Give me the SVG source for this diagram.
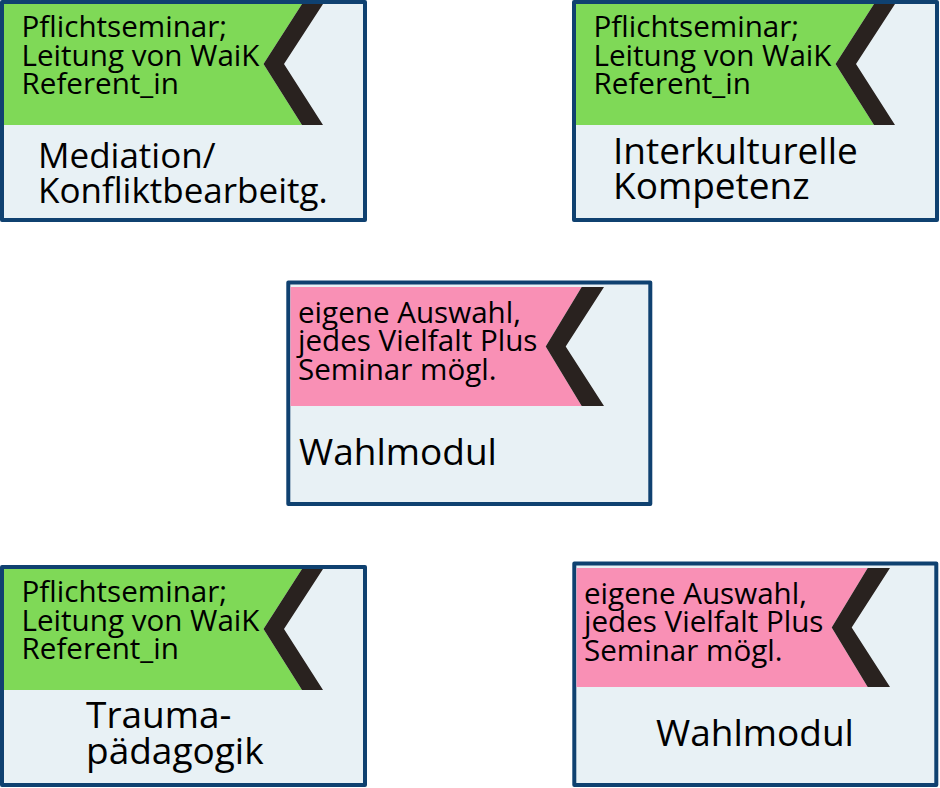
<svg xmlns="http://www.w3.org/2000/svg" width="940" height="788" viewBox="0 0 940 788">
<style>
.frame{fill:#e8f1f5;stroke:#0f4170;stroke-width:4;stroke-linejoin:round}
.green{fill:#7fd957}
.pink{fill:#f990b5}
.chev{fill:#29221f}
.small{font-family:"Open Sans","Noto Sans",sans-serif;font-size:29.6px;fill:#000}
.big{font-family:"Open Sans","Noto Sans",sans-serif;font-size:37px;fill:#000}
.big35{font-family:"Open Sans","Noto Sans",sans-serif;font-size:35px;fill:#000}
</style>
<rect width="940" height="788" fill="#ffffff"/>
<g id="connectors"></g>
<g id="node-mediation">
<rect class="frame" x="2" y="2" width="363" height="218"/>
<polygon class="green" points="4,4 302,4 263.5,64 302,125 4,125"/>
<polygon class="chev" points="302,4 323,4 284,64 323,125 302,125 263.5,64"/>
<text class="small"><tspan x="21.5" y="37">Pflichtseminar;</tspan><tspan x="21.5" y="65.5">Leitung von WaiK</tspan><tspan x="21.5" y="94">Referent_in</tspan></text>
<text class="big35"><tspan x="38" y="168">Mediation/</tspan><tspan x="38" y="203">Konfliktbearbeitg.</tspan></text>
</g>
<g id="node-interkulturelle">
<rect class="frame" x="574" y="2" width="363" height="218"/>
<polygon class="green" points="576,4 874,4 835.5,64 874,125 576,125"/>
<polygon class="chev" points="874,4 895,4 856,64 895,125 874,125 835.5,64"/>
<text class="small"><tspan x="593.5" y="37">Pflichtseminar;</tspan><tspan x="593.5" y="65.5">Leitung von WaiK</tspan><tspan x="593.5" y="94">Referent_in</tspan></text>
<text class="big"><tspan x="613" y="164">Interkulturelle</tspan><tspan x="613" y="199">Kompetenz</tspan></text>
</g>
<g id="node-wahlmodul-1">
<rect class="frame" x="288.3" y="282.5" width="362" height="221.5"/>
<polygon class="pink" points="290.5,287 581.7,287 545.7,346.5 581.7,406 290.5,406"/>
<polygon class="chev" points="581.7,287 604,287 565.7,346.5 604,406 581.7,406 545.7,346.5"/>
<text class="small"><tspan x="298" y="322.5">eigene Auswahl,</tspan><tspan x="298" y="351">jedes Vielfalt Plus</tspan><tspan x="298" y="379.5">Seminar mögl.</tspan></text>
<text class="big" x="299" y="465">Wahlmodul</text>
</g>
<g id="node-trauma">
<rect class="frame" x="2" y="567" width="363" height="218"/>
<polygon class="green" points="4,569 302,569 263.5,629 302,690 4,690"/>
<polygon class="chev" points="302,569 323,569 284,629 323,690 302,690 263.5,629"/>
<text class="small"><tspan x="21.5" y="602">Pflichtseminar;</tspan><tspan x="21.5" y="630.5">Leitung von WaiK</tspan><tspan x="21.5" y="659">Referent_in</tspan></text>
<text class="big"><tspan x="86" y="728">Trauma-</tspan><tspan x="86" y="764">pädagogik</tspan></text>
</g>
<g id="node-wahlmodul-2">
<rect class="frame" x="574.3" y="563.5" width="362" height="221.5"/>
<polygon class="pink" points="576.5,568 867.7,568 831.7,627.5 867.7,687 576.5,687"/>
<polygon class="chev" points="867.7,568 890,568 851.7,627.5 890,687 867.7,687 831.7,627.5"/>
<text class="small"><tspan x="584" y="603.5">eigene Auswahl,</tspan><tspan x="584" y="632">jedes Vielfalt Plus</tspan><tspan x="584" y="660.5">Seminar mögl.</tspan></text>
<text class="big" x="656" y="746">Wahlmodul</text>
</g>
</svg>
